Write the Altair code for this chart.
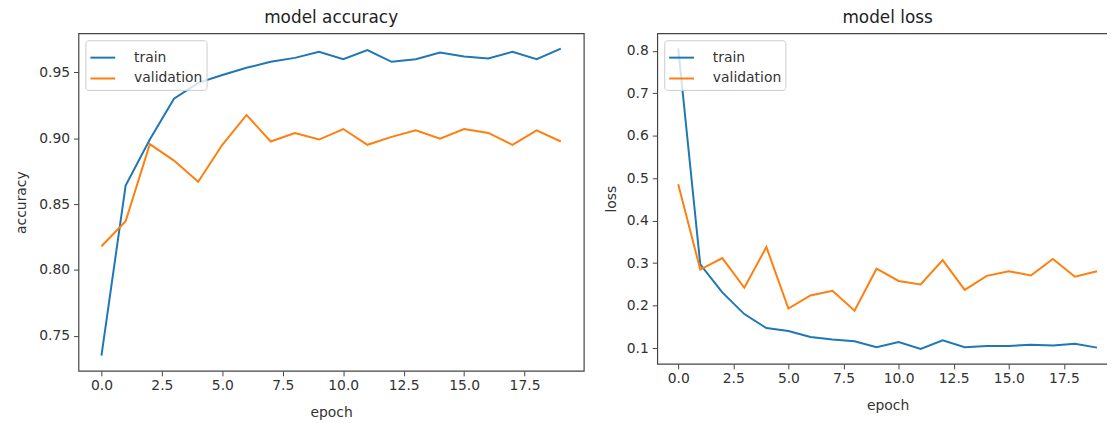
import altair as alt
import pandas as pd

epochs = list(range(20))
acc_train = [0.735, 0.864, 0.899, 0.930, 0.942, 0.948, 0.9535, 0.958, 0.961, 0.9656,
             0.960, 0.967, 0.958, 0.960, 0.965, 0.962, 0.9606, 0.9656, 0.960, 0.968]
acc_val = [0.818, 0.837, 0.8955, 0.883, 0.867, 0.895, 0.9177, 0.8975, 0.904, 0.899,
           0.907, 0.895, 0.901, 0.906, 0.8996, 0.907, 0.904, 0.895, 0.906, 0.8975]
loss_train = [0.806, 0.297, 0.231, 0.180, 0.147, 0.140, 0.126, 0.120, 0.116, 0.102,
              0.114, 0.098, 0.118, 0.102, 0.105, 0.105, 0.108, 0.106, 0.110, 0.101]
loss_val = [0.486, 0.285, 0.312, 0.242, 0.338, 0.193, 0.224, 0.235, 0.188, 0.287,
            0.258, 0.250, 0.307, 0.237, 0.270, 0.281, 0.271, 0.310, 0.268, 0.281]
series = ["train", "validation"]
colors = ["#1f77b4", "#ff7f0e"]
x_ticks = [0, 2.5, 5, 7.5, 10, 12.5, 15, 17.5]
acc_ticks = [0.75, 0.80, 0.85, 0.90, 0.95]
loss_ticks = [0.1, 0.2, 0.3, 0.4, 0.5, 0.6, 0.7, 0.8]


def long_df(a, b):
    return pd.DataFrame({
        "epoch": epochs + epochs,
        "value": a + b,
        "series": ["train"] * len(a) + ["validation"] * len(b),
    })


def margin_domain(vals):
    lo, hi = min(vals), max(vals)
    r = hi - lo
    return [lo - 0.05 * r, hi + 0.05 * r]


FONT = "DejaVu Sans"
TXT = "#333333"


def panel(df, title, ytitle, yticks, yfmt, w, h, tpad):
    legend = alt.Legend(
        title=None, orient="top-left", offset=7, padding=4,
        symbolType="stroke", symbolSize=625, symbolStrokeWidth=2,
        labelFontSize=14, labelFont=FONT, labelColor=TXT, labelOffset=18,
        rowPadding=0, strokeColor="#cccccc", fillColor="rgba(255,255,255,0.8)",
        cornerRadius=3,
    )
    return alt.Chart(df).mark_line(strokeWidth=2).encode(
        x=alt.X("epoch:Q",
                scale=alt.Scale(domain=[-0.95, 19.95], nice=False, zero=False),
                axis=alt.Axis(title="epoch", values=x_ticks, format=".1f",
                              labelPadding=3, titlePadding=13)),
        y=alt.Y("value:Q",
                scale=alt.Scale(domain=margin_domain(df["value"].tolist()),
                                nice=False, zero=False),
                axis=alt.Axis(title=ytitle, values=yticks, format=yfmt,
                              titlePadding=tpad)),
        color=alt.Color("series:N",
                        scale=alt.Scale(domain=series, range=colors),
                        legend=legend),
    ).properties(
        width=w, height=h,
        title=alt.TitleParams(title, fontSize=17, font=FONT, fontWeight="normal",
                              color="#222222", offset=6),
    )


left = panel(long_df(acc_train, acc_val), "model accuracy", "accuracy",
             acc_ticks, ".2f", 509, 340, 10)
right = panel(long_df(loss_train, loss_val), "model loss", "loss",
              loss_ticks, ".1f", 464, 333, 8)

chart = alt.hconcat(left, right, spacing=19).resolve_scale(
    color="independent"
).resolve_legend(color="independent").configure_view(
    stroke="#444444", strokeWidth=1.2
).configure_axis(
    grid=False, domain=False, ticks=True, tickSize=5, tickColor="#444444",
    tickWidth=1, labelFont=FONT, labelFontSize=14, labelColor=TXT,
    labelPadding=4, titleFont=FONT, titleFontSize=14, titleColor=TXT,
    titleFontWeight="normal",
).properties(
    autosize=alt.AutoSizeParams(type="none"),
    padding={"left": 71, "top": 24, "right": 1036, "bottom": 391},
)

chart.save("out.html", embed_options={"renderer": "svg", "actions": False})
